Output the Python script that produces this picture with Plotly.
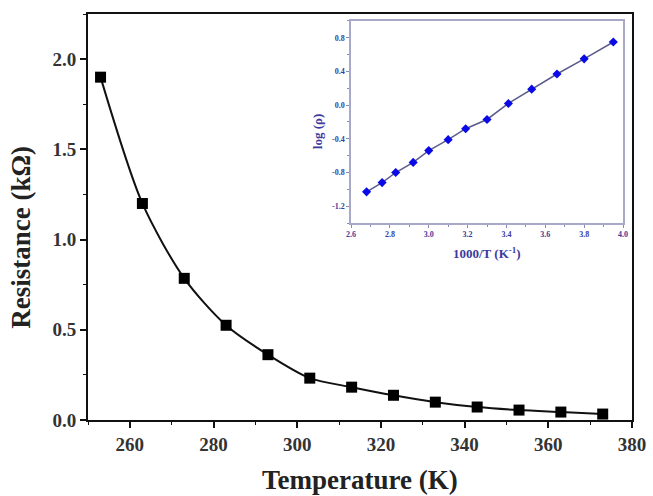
import plotly.graph_objects as go

# Main data: temperature vs resistance
temperature = [253, 263, 273, 283, 293, 303, 313, 323, 333, 343, 353, 363, 373]
resistance = [1.90, 1.20, 0.785, 0.525, 0.362, 0.232, 0.182, 0.137, 0.099, 0.072, 0.055, 0.044, 0.033]

# Inset data: 1000/T vs log(rho)
inv_t = [2.68, 2.76, 2.83, 2.92, 3.00, 3.10, 3.19, 3.30, 3.41, 3.53, 3.66, 3.80, 3.95]
log_rho = [-1.03, -0.92, -0.80, -0.68, -0.54, -0.41, -0.28, -0.17, 0.02, 0.19, 0.37, 0.55, 0.75]

x_ticks = [260, 280, 300, 320, 340, 360, 380]
y_ticks = [0.0, 0.5, 1.0, 1.5, 2.0]
y_ticktext = ["0.0", "0.5", "1.0", "1.5", "2.0"]
inset_x_ticks = [2.6, 2.8, 3.0, 3.2, 3.4, 3.6, 3.8, 4.0]
inset_x_ticktext = ["2.6", "2.8", "3.0", "3.2", "3.4", "3.6", "3.8", "4.0"]
inset_y_ticks = [-1.2, -0.8, -0.4, 0.0, 0.4, 0.8]
inset_y_ticktext = ["-1.2", "-0.8", "-0.4", "0.0", "0.4", "0.8"]

SERIF = "Liberation Serif, Times New Roman, serif"
INSET_C = "#3b3b9e"

fig = go.Figure()
fig.add_trace(go.Scatter(
    x=temperature, y=resistance, mode="lines+markers",
    line=dict(color="#111111", width=2, shape="spline", smoothing=0.8),
    marker=dict(symbol="square", size=11, color="#000000"),
    xaxis="x", yaxis="y", showlegend=False,
))
fig.add_trace(go.Scatter(
    x=inv_t, y=log_rho, mode="lines+markers",
    line=dict(color="#5c5c8c", width=1.5),
    marker=dict(symbol="diamond", size=7, color="#0a0ae6"),
    xaxis="x2", yaxis="y2", showlegend=False,
))

fig.update_layout(
    width=653, height=496,
    margin=dict(l=88, r=21, t=14, b=76),
    paper_bgcolor="white", plot_bgcolor="white",
    font=dict(family=SERIF, color="#222222"),
    xaxis=dict(
        domain=[0, 1], range=[250, 380], tickvals=x_ticks, automargin=False,
        ticks="outside", ticklen=6, tickwidth=1.5, tickcolor="#111",
        minor=dict(ticks="outside", ticklen=3, tickwidth=1.2, dtick=10, tick0=250, tickcolor="#111"),
        showline=True, linecolor="#111", linewidth=2, mirror=True,
        showgrid=False, zeroline=False,
        tickfont=dict(size=19, family=SERIF, color="#333", weight="bold"),
    ),
    yaxis=dict(
        domain=[0, 1], range=[0, 2.25], tickvals=y_ticks, ticktext=y_ticktext, automargin=False,
        ticks="outside", ticklen=6, tickwidth=1.5, tickcolor="#111",
        minor=dict(ticks="outside", ticklen=3, tickwidth=1.2, dtick=0.25, tick0=0, tickcolor="#111"),
        showline=True, linecolor="#111", linewidth=2, mirror=True,
        showgrid=False, zeroline=False,
        tickfont=dict(size=19, family=SERIF, color="#333", weight="bold"),
    ),
    xaxis2=dict(
        domain=[0.4835, 0.9835], anchor="y2", range=[2.6, 4.0], tickvals=inset_x_ticks,
        ticktext=inset_x_ticktext, automargin=False,
        ticks="outside", ticklen=3, tickwidth=1, tickcolor="#8a8ab8",
        minor=dict(ticks="outside", ticklen=2, tickwidth=1, dtick=0.1, tick0=2.6, tickcolor="#8a8ab8"),
        showline=True, linecolor="#a8a8c8", linewidth=1.5, mirror=True,
        showgrid=False, zeroline=False,
        tickfont=dict(size=8, family=SERIF, color=INSET_C, weight="bold"),
    ),
    yaxis2=dict(
        domain=[0.4852, 0.9828], anchor="x2", range=[-1.4, 1.0], tickvals=inset_y_ticks,
        ticktext=inset_y_ticktext, automargin=False,
        ticks="outside", ticklen=3, tickwidth=1, tickcolor="#8a8ab8",
        minor=dict(ticks="outside", ticklen=2, tickwidth=1, dtick=0.2, tick0=-1.4, tickcolor="#8a8ab8"),
        showline=True, linecolor="#a8a8c8", linewidth=1.5, mirror=True,
        showgrid=False, zeroline=False,
        tickfont=dict(size=8, family=SERIF, color=INSET_C, weight="bold"),
    ),
    annotations=[
        dict(text="<b>Temperature (K)</b>", xref="paper", yref="paper", x=0.5, y=-0.1478,
             xanchor="center", yanchor="middle", showarrow=False,
             font=dict(size=27, family=SERIF, color="#222")),
        dict(text="<b>Resistance (kΩ)</b>", xref="paper", yref="paper", x=-0.1235, y=0.4507,
             xanchor="center", yanchor="middle", showarrow=False, textangle=-90,
             font=dict(size=27, family=SERIF, color="#222")),
        dict(text="<b>1000/T (K<sup>-1</sup>)</b>", xref="paper", yref="paper", x=0.7335, y=0.4113,
             xanchor="center", yanchor="middle", showarrow=False,
             font=dict(size=13, family=SERIF, color=INSET_C)),
        dict(text="<b>log (ρ)</b>", xref="paper", yref="paper", x=0.421, y=0.709,
             xanchor="center", yanchor="middle", showarrow=False, textangle=-90,
             font=dict(size=13, family=SERIF, color=INSET_C)),
    ],
)

fig.write_html("out.html")
